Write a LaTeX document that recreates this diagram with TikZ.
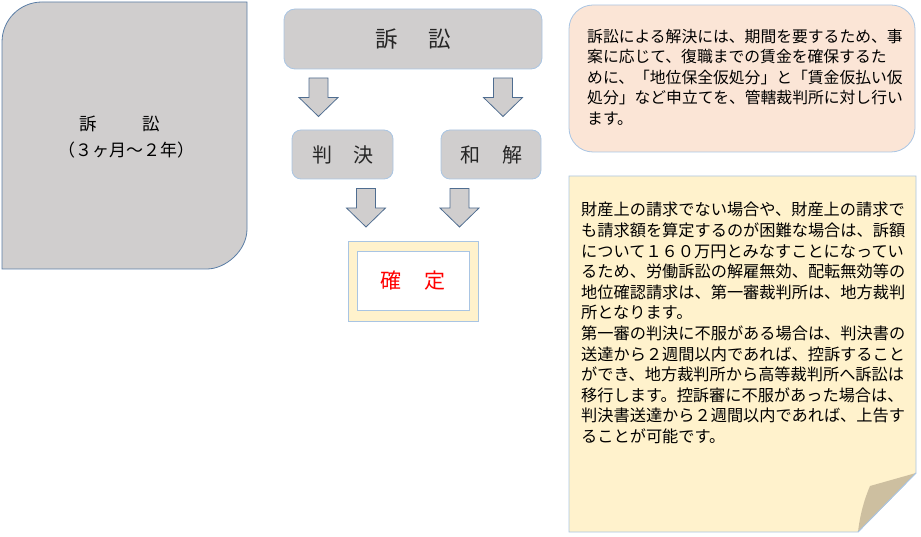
\documentclass[tikz,border=0pt]{standalone}
\usepackage{fontspec}
\setmainfont{Noto Sans CJK JP}
\definecolor{boxgray}{HTML}{D0CECE}
\definecolor{darkedge}{HTML}{5B7EA6}
\definecolor{lightedge}{HTML}{A9C5E3}
\definecolor{peach}{HTML}{FBE5D6}
\definecolor{cream}{HTML}{FFF2CC}
\definecolor{flap}{HTML}{CDBFA0}
\definecolor{arrowedge}{HTML}{4F6D90}
\definecolor{labeltext}{HTML}{262626}
\begin{document}
\begin{tikzpicture}[x=1pt,y=-1pt,
  graybox/.style={fill=boxgray,draw=lightedge,line width=0.8pt,rounded corners=11pt},
  label/.style={inner sep=0pt,text=labeltext},
  bodytext/.style={inner sep=0pt,align=left,anchor=north west,font=\fontsize{15.8}{20.5}\selectfont},
  arrowstyle/.style={fill=boxgray,draw=arrowedge,line width=0.8pt,line join=miter},
  barrow/.pic={\draw[arrowstyle] (-9.5,0) -- (9.5,0) -- (9.5,19.5) -- (19.5,19.5) -- (0,38.5) -- (-19.5,19.5) -- (-9.5,19.5) -- cycle;}
]
\useasboundingbox (0,0) rectangle (921,537);

% left box
\draw[fill=boxgray,draw=darkedge,line width=0.8pt]
  (2,269) -- (2,42) .. controls (2,19.9) and (19.9,2) .. (42,2)
  -- (247,2) -- (247,229) .. controls (247,251.1) and (225.1,269) .. (207,269) -- cycle;
\node[label,text=black,font=\fontsize{17.5}{17.5}\selectfont] (lt1) at (119.5,124) {訴\hspace{46pt}訟};
\node[label,text=black,font=\fontsize{17}{17}\selectfont] (lt2) at (126,150) {（３ヶ月～２年）};

% flow boxes
\node[graybox,minimum width=258pt,minimum height=60pt] (sosho) at (413,39) {};
\node[label,font=\fontsize{22.5}{22.5}\selectfont] at (sosho.center) {訴\hspace{31pt}訟};
\node[graybox,rounded corners=9pt,minimum width=101pt,minimum height=49pt] (hanketsu) at (342.5,154.5) {};
\node[label,font=\fontsize{20}{20}\selectfont] at (hanketsu.center) {判\hspace{21pt}決};
\node[graybox,rounded corners=9pt,minimum width=100pt,minimum height=49pt] (wakai) at (491,154.5) {};
\node[label,font=\fontsize{20}{20}\selectfont] at (wakai.center) {和\hspace{22pt}解};

\node[fill=cream,draw=lightedge,line width=0.8pt,minimum width=130pt,minimum height=80pt] (kakuteiouter) at (413,281) {};
\node[fill=white,draw=lightedge,line width=0.8pt,minimum width=112pt,minimum height=59pt] (kakutei) at (413,280.5) {};
\node[label,text=red,font=\fontsize{21}{21}\selectfont] at (kakutei.center) {確\hspace{23pt}定};

% block arrows
\pic at (318.5,78) {barrow};
\pic at (503,78) {barrow};
\pic at (366,188.5) {barrow};
\pic at (459.5,188.5) {barrow};

% top right note
\node[fill=peach,draw=lightedge,line width=0.8pt,rounded corners=24pt,minimum width=346pt,minimum height=147pt] (note1) at (742,78.5) {};
\node[bodytext] (note1text) at (587,29) {訴訟による解決には、期間を要するため、事\\案に応じて、復職までの賃金を確保するた\\めに、「地位保全仮処分」と「賃金仮払い仮\\処分」など申立てを、管轄裁判所に対し行い\\ます。};

% bottom right note with folded corner
\draw[fill=cream,draw=lightedge,line width=0.8pt]
  (569,176) -- (916,176) -- (916,473) -- (858,532) -- (569,532) -- cycle;
\fill[flap] (916,473) -- (870,486) .. controls (864,500) and (860,515) .. (858,532) -- cycle;
\draw[lightedge,line width=0.8pt] (916,473) -- (858,532);
\node[bodytext,font=\fontsize{16.2}{20.6}\selectfont] (note2text) at (581,202) {財産上の請求でない場合や、財産上の請求で\\も請求額を算定するのが困難な場合は、訴額\\について１６０万円とみなすことになってい\\るため、労働訴訟の解雇無効、配転無効等の\\地位確認請求は、第一審裁判所は、地方裁判\\所となります。\\第一審の判決に不服がある場合は、判決書の\\送達から２週間以内であれば、控訴すること\\ができ、地方裁判所から高等裁判所へ訴訟は\\移行します。控訴審に不服があった場合は、\\判決書送達から２週間以内であれば、上告す\\ることが可能です。};
\end{tikzpicture}
\end{document}
